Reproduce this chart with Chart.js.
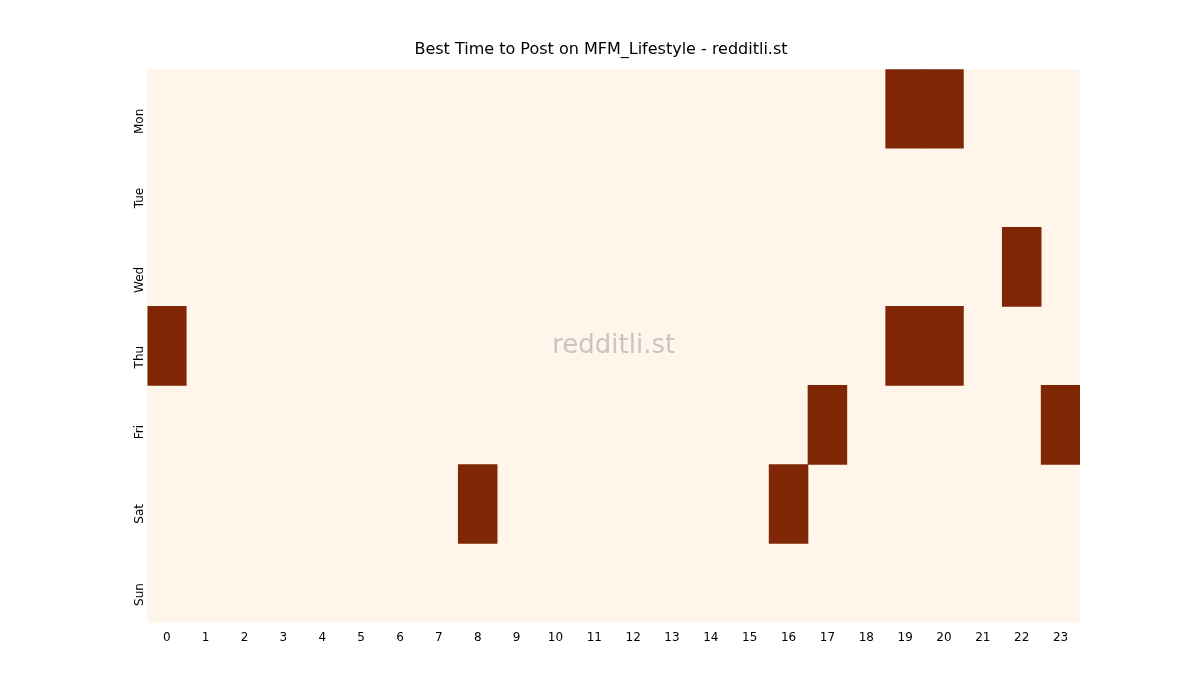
<!DOCTYPE html>
<html>
<head>
<meta charset="utf-8">
<script src="https://cdn.jsdelivr.net/npm/chart.js@4.4.1/dist/chart.umd.min.js"></script>
<style>
body{margin:0;background:#fff;}
#wrap{width:1200px;height:700px;}
</style>
</head>
<body>
<div id="wrap"><canvas id="heat" width="1200" height="700"></canvas></div>
<script>
const days=['Mon','Tue','Wed','Thu','Fri','Sat','Sun'];
const hours=['0','1','2','3','4','5','6','7','8','9','10','11','12','13','14','15','16','17','18','19','20','21','22','23'];
// best-time cells: [day, hour]
const hotDays=['Mon','Mon','Wed','Thu','Thu','Thu','Fri','Fri','Sat','Sat'];
const hotHours=[19,20,22,0,19,20,17,23,8,16];

const datasets=hotDays.map((d,i)=>{
    const data=days.map(day=>day===d?[hotHours[i]-0.5,hotHours[i]+0.5]:null);
    return {data:data,backgroundColor:'#7f2704',borderWidth:0,barPercentage:1,categoryPercentage:1,grouped:false};
});

const bgPlugin={
    id:'bg',
    beforeDatasetsDraw(chart){
        const a=chart.chartArea, c=chart.ctx;
        c.save();
        c.fillStyle='#fff5eb';
        c.fillRect(a.left,a.top,a.right-a.left,a.bottom-a.top);
        c.restore();
    },
    afterDatasetsDraw(chart){
        const a=chart.chartArea, c=chart.ctx;
        c.save();
        c.fillStyle='rgba(150,150,150,0.5)';
        c.font='26px "DejaVu Sans"';
        c.textAlign='center';
        c.textBaseline='middle';
        c.fillText('redditli.st',(a.left+a.right)/2,(a.top+a.bottom)/2);
        c.restore();
    }
};

new Chart(document.getElementById('heat'),{
    type:'bar',
    data:{labels:days,datasets:datasets},
    plugins:[bgPlugin],
    options:{
        responsive:false,
        animation:false,
        indexAxis:'y',
        layout:{padding:{left:122,right:120,top:20,bottom:52}},
        plugins:{
            legend:{display:false},
            tooltip:{enabled:false},
            title:{display:true,text:'Best Time to Post on MFM_Lifestyle - redditli.st',color:'#000',
                font:{family:'DejaVu Sans',size:16,weight:'normal'},padding:{top:20,bottom:10}}
        },
        scales:{
            x:{
                type:'linear',min:-0.5,max:23.5,
                afterBuildTicks(axis){axis.ticks=hours.map(h=>({value:Number(h)}));},
                grid:{display:false,drawOnChartArea:false,drawTicks:true,tickLength:5,tickColor:'#000'},
                border:{display:false},
                ticks:{color:'#000',font:{family:'DejaVu Sans',size:12},maxRotation:0,autoSkip:false,
                    callback:(v)=>hours[v]}
            },
            y:{
                type:'category',
                grid:{display:false,drawOnChartArea:false,drawTicks:true,tickLength:5,tickColor:'#000'},
                border:{display:false},
                ticks:{color:'#000',font:{family:'DejaVu Sans',size:12},minRotation:90,maxRotation:90}
            }
        }
    }
});
</script>
</body>
</html>
